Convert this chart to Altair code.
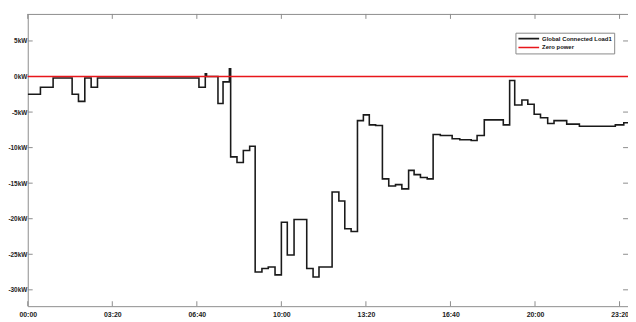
import altair as alt
import pandas as pd

# step-change times (minutes after midnight) and power values (kW)
minutes = [0, 30, 60, 105, 120, 135, 150, 165, 405, 420, 423, 450, 462, 477, 480,
           495, 510, 525, 538, 554, 569, 585, 600, 614, 630, 660, 675, 689, 720,
           736, 750, 765, 780, 794, 808, 823, 839, 854, 870, 885, 901, 914, 929,
           945, 959, 976, 1004, 1022, 1049, 1063, 1080, 1125, 1140, 1152, 1169,
           1183, 1198, 1213, 1230, 1245, 1275, 1305, 1335, 1390, 1410, 1420]
power = [-2.5, -1.5, -0.2, -2.5, -3.5, -0.2, -1.5, -0.2, -1.5, 0.4, 0.0, -3.8,
         -0.75, 1.1, -11.3, -12.1, -10.4, -9.8, -27.5, -27.0, -26.8, -27.9, -20.5,
         -25.1, -20.1, -27.0, -28.2, -26.8, -16.25, -17.5, -21.4, -21.8, -6.2,
         -5.4, -6.8, -6.9, -14.4, -15.4, -15.2, -15.8, -13.2, -13.8, -14.2, -14.4,
         -8.15, -8.3, -8.75, -8.9, -9.0, -8.3, -6.1, -6.8, -0.55, -4.0, -3.3, -3.9,
         -5.3, -5.8, -6.6, -6.2, -6.7, -7.0, -7.0, -6.8, -6.5, -6.5]

x_ticks = [0, 200, 400, 600, 800, 1000, 1200, 1400]
y_ticks = [-30, -25, -20, -15, -10, -5, 0, 5]
series_names = ["Global Connected Load1", "Zero power"]
series_colors = ["#1a1a1a", "#e8161b"]

W, H = 608, 296
frame = "#8c8c8c"
FONT = "Liberation Sans"

df = pd.DataFrame({"t": minutes, "p": power})
xt = pd.DataFrame({"t": x_ticks})
yt = pd.DataFrame({"p": y_ticks})

xscale = alt.Scale(domain=[0, 1420], nice=False, zero=False)
yscale = alt.Scale(domain=[-32.3, 8.8], nice=False, zero=False)
cscale = alt.Scale(domain=series_names, range=series_colors)

xaxis = alt.Axis(values=x_ticks, title=None, grid=False, ticks=False,
                 labelExpr="pad(floor(datum.value/60),2,'0','left') + ':' + pad(datum.value%60,2,'0','left')",
                 labelFont=FONT, labelFontWeight="bold", labelFontSize=7,
                 labelColor="#222222", labelPadding=4, labelFlush=False,
                 domainColor=frame, domainWidth=1)
yaxis = alt.Axis(values=y_ticks, title=None, grid=False, ticks=False,
                 labelExpr="datum.value + 'kW'",
                 labelFont=FONT, labelFontWeight="bold", labelFontSize=6.5,
                 labelColor="#222222", labelPadding=1,
                 domainColor=frame, domainWidth=1)

legend = alt.Legend(title=None, orient="none", legendX=494, legendY=19,
                    symbolType="stroke", symbolSize=440, symbolStrokeWidth=1.6,
                    clipHeight=8, labelFont=FONT, labelFontWeight="bold",
                    labelFontSize=6, labelColor="#111111", labelOffset=2,
                    rowPadding=1, padding=2, strokeColor="#888888",
                    fillColor="white")

line = alt.Chart(df).mark_line(interpolate="step-after", strokeWidth=1.6, clip=True).encode(
    x=alt.X("t:Q", scale=xscale, axis=xaxis),
    y=alt.Y("p:Q", scale=yscale, axis=yaxis),
    color=alt.Color("s:N", scale=cscale, legend=legend),
).transform_calculate(s="'Global Connected Load1'")

zero = alt.Chart(pd.DataFrame({"p": [0], "s": ["Zero power"]})).mark_rule(strokeWidth=1.6).encode(
    y=alt.Y("p:Q", scale=yscale),
    color=alt.Color("s:N", scale=cscale, legend=legend),
)

top_border = alt.Chart(pd.DataFrame({"p": [0]})).mark_rule(color=frame, strokeWidth=1).encode(
    x=alt.value(0), x2=alt.value(W), y=alt.value(0.5))

tick_bottom = alt.Chart(xt).mark_rule(color=frame).encode(
    x=alt.X("t:Q", scale=xscale), y=alt.value(H), y2=alt.value(H - 5))
tick_top = alt.Chart(xt).mark_rule(color=frame).encode(
    x=alt.X("t:Q", scale=xscale), y=alt.value(0), y2=alt.value(5))
tick_left = alt.Chart(yt).mark_rule(color=frame).encode(
    y=alt.Y("p:Q", scale=yscale), x=alt.value(0), x2=alt.value(5))
tick_right = alt.Chart(yt).mark_rule(color=frame).encode(
    y=alt.Y("p:Q", scale=yscale), x=alt.value(W - 5), x2=alt.value(W))

chart = alt.layer(
    top_border, tick_bottom, tick_top, tick_left, tick_right, line, zero
).properties(
    width=W, height=H,
    autosize=alt.AutoSizeParams(type="none"),
    padding={"left": 20, "top": 4, "right": 0, "bottom": 13},
    background="white",
).configure_view(strokeWidth=0)

chart.save("out.html", embed_options={"renderer": "svg", "actions": False})
